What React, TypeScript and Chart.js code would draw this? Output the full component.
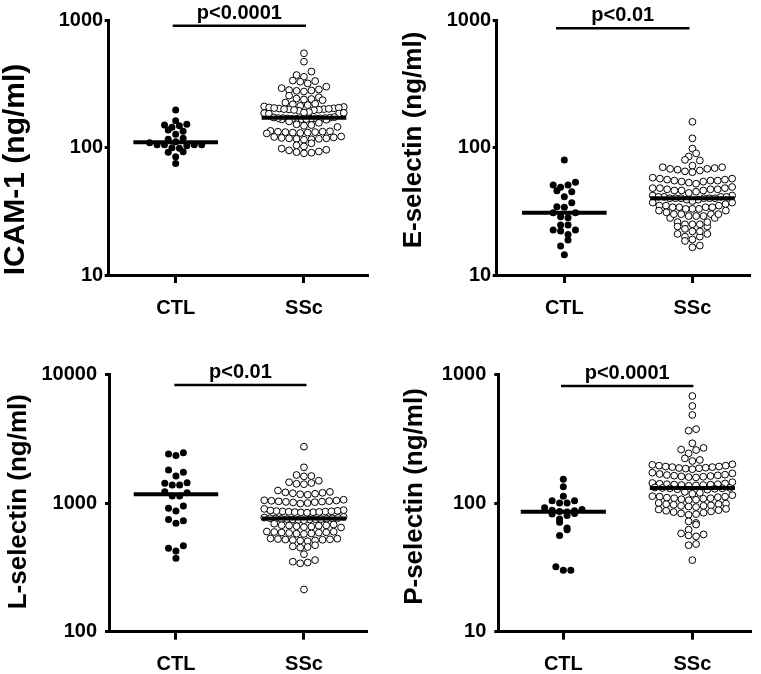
import React, { useEffect, useRef } from 'react';
import { Chart, registerables } from 'chart.js';

Chart.register(...registerables);

// ---------------- data ----------------
const categories = ['CTL', 'SSc'];
const yTitles = ['ICAM-1 (ng/ml)', 'E-selectin (ng/ml)', 'L-selectin (ng/ml)', 'P-selectin (ng/ml)'];
const pLabels = ['p<0.0001', 'p<0.01', 'p<0.01', 'p<0.0001'];
const yTickValues = [
  [10, 100, 1000],
  [10, 100, 1000],
  [100, 1000, 10000],
  [10, 100, 1000],
];
const yTickLabels = [
  ['10', '100', '1000'],
  ['10', '100', '1000'],
  ['100', '1000', '10000'],
  ['10', '100', '1000'],
];
const sigBarLevel = [900, 860, 8250, 810];

const icamCTL = [197, 162, 152, 148, 150, 144, 137, 134, 127, 116, 118, 109, 105, 105, 99.5, 103, 105, 105, 111, 92.7, 91.6, 98.5, 84.7, 75];
const icamSSc = [
  548, 471, 394, 370, 359, 335, 332, 328, 318,
  300, 292, 285, 282, 280, 278, 275,
  255, 248, 242, 240, 238, 235,
  225, 220, 218, 215, 212, 210,
  208, 203, 200, 205, 198, 202, 196, 206, 199, 201, 194, 204, 197, 200,
  190, 188, 186, 185, 184, 187,
  172, 170, 169, 168, 167, 170, 171, 166, 168, 169, 173, 165, 170, 167, 168, 169,
  160, 156, 152, 150, 148, 145,
  135, 133, 132, 131, 130, 132, 134, 129, 131, 133,
  122, 120, 118, 117, 119, 116, 121, 118, 115, 117,
  108, 104, 102, 98, 96, 95, 93, 92, 91, 90,
];

const eselCTL = [79.8, 50.8, 53.3, 48.7, 50.8, 45.8, 45, 41.1, 36.9, 34.3, 34, 30.8, 30.8, 28.1, 28.6, 24.7, 24.7, 22.5, 22.5, 22.1, 20.8, 18.8, 16.9, 14.4];
const eselSSc = [
  159, 118, 98, 90, 85, 80, 79,
  72, 70, 69, 68, 67, 66, 65, 70, 68, 64,
  58, 57, 56, 55, 54, 55, 57, 53, 56, 54, 55, 52,
  49, 48, 47, 46, 47, 48, 46, 45, 47, 44, 46, 48,
  42, 41, 40, 40, 41, 39, 40, 42, 41, 40, 39, 41, 40, 40,
  38, 37, 36, 37,
  35, 34, 34, 33, 35, 33, 34, 32, 35, 33, 34, 32,
  30, 30, 29, 29, 28, 30, 31, 29, 28, 30,
  26, 25, 25, 24, 24, 26, 25, 23,
  22, 21, 20, 21, 20, 22,
  19, 18.5, 17, 16.5,
];

const lselCTL = [2404, 2335, 2461, 1733, 1805, 1622, 1380, 1438, 1423, 1380, 1202, 1133, 1133, 1225, 910, 867, 949, 746, 695, 728, 445, 466, 424, 372];
const lselSSc = [
  2737, 1893, 1650, 1620, 1610, 1490, 1450, 1430, 1410, 1400,
  1250, 1220, 1200, 1180, 1170, 1210, 1190, 1160,
  1060, 1050, 1040, 1030, 1020, 1010, 1000, 1045, 1025, 1035, 1015, 990,
  900, 880, 870, 860, 855, 850, 865, 845, 875, 858, 848, 862, 852, 840,
  780, 770, 760, 755, 750, 752, 748, 745, 758, 762, 740, 735, 765, 745, 750,
  690, 680, 670, 665, 660, 655, 650, 672, 668, 645,
  600, 595, 590, 585, 580, 575, 592, 588, 578, 598,
  530, 525, 520, 515, 510, 522, 518, 512, 528, 505,
  470, 460, 455, 450, 400,
  360, 345, 340, 350,
  213,
];

const pselCTL = [153, 134, 113, 104, 104, 100, 100, 92, 89, 88, 87, 86, 85, 83, 82, 80, 75, 71, 64, 62, 56, 32, 30, 30];
const pselSSc = [
  678, 567, 483, 375, 365, 291, 268, 260, 258, 243, 222, 216, 212,
  200, 195, 192, 190, 188, 186, 185, 190, 183, 195, 198, 187, 192,
  172, 168, 165, 162, 160, 158, 163, 166, 161, 170, 159, 164,
  145, 142, 140, 139, 138, 137, 141, 136, 143, 139, 140, 138,
  132, 131, 130, 129, 128, 130, 131, 127,
  122, 118, 115, 112, 120,
  112, 110, 109, 108, 106, 111, 107, 105, 113, 109,
  100, 98, 96, 95, 94, 97, 99, 93, 95, 98,
  90, 88, 86, 85, 84, 83, 82, 87, 89, 81,
  72, 70, 68, 62, 58, 57, 56, 55,
  48, 47, 36,
];

const ctlSeries = [icamCTL, eselCTL, lselCTL, pselCTL];
const sscSeries = [icamSSc, eselSSc, lselSSc, pselSSc];

// ---------------- layout / style ----------------
const FONT = '"Liberation Sans", Arial, Helvetica, sans-serif';
const ROW_HEIGHT = 0.05; // row bin height in decades
const DOT_STEP = 0.058; // horizontal step between dots in a row (x units)
const COLUMN_HALF = 0.31; // max half-width of a row of dots (x units)
const MEDIAN_HALF = 0.33;
const X_AXIS_HEIGHT = 42;

const panels = [
  { left: 0, top: 0, w: 380, h: 330, yWidth: 108.7, padTop: 20, padRight: 12, chartBottom: 275, xMin: -0.522, xMax: 1.499, tickPad: 1.5, titleX: 16, titleY: 169.5, titleSize: 30, barFrom: -0.023, barTo: 1.016 },
  { left: 380, top: 0, w: 381, h: 330, yWidth: 116.7, padTop: 20, padRight: 10.3, chartBottom: 275, xMin: -0.528, xMax: 1.455, tickPad: 1.5, titleX: 34, titleY: 140, titleSize: 26, barFrom: -0.065, barTo: 0.977 },
  { left: 0, top: 330, w: 380, h: 344, yWidth: 109, padTop: 44.3, padRight: 12.3, chartBottom: 301.7, xMin: -0.523, xMax: 1.498, tickPad: 8, titleX: 19, titleY: 171.7, titleSize: 26, barFrom: -0.013, barTo: 1.02 },
  { left: 380, top: 330, w: 381, h: 344, yWidth: 118.3, padTop: 44.3, padRight: 9.3, chartBottom: 301.7, xMin: -0.504, xMax: 1.46, tickPad: 8, titleX: 35, titleY: 166.5, titleSize: 26, barFrom: -0.018, barTo: 1.008 },
];

function median(values: number[]): number {
  const s = [...values].sort((a, b) => a - b);
  const n = s.length;
  return n % 2 ? s[(n - 1) / 2] : (s[n / 2 - 1] + s[n / 2]) / 2;
}

// Prism-like scatter-dot layout: bin values into rows (log space), spread each row horizontally
function rowLayout(values: number[]): number[] {
  const ys = values.map((v) => Math.log10(v));
  const idx = ys.map((_, i) => i).sort((a, b) => ys[a] - ys[b]);
  const out = new Array(values.length).fill(0);
  let k = 0;
  let rowNo = 0;
  while (k < idx.length) {
    const start = ys[idx[k]];
    let e = k;
    while (e < idx.length && ys[idx[e]] - start <= ROW_HEIGHT + 1e-9) e++;
    const row = idx.slice(k, e);
    const n = row.length;
    const step = n > 1 ? Math.min(DOT_STEP, (2 * COLUMN_HALF) / (n - 1)) : 0;
    const sign = rowNo % 2 ? 1 : -1;
    const slots = row
      .map((_, j) => (j - (n - 1) / 2) * step)
      .sort((a, b) => {
        const d = Math.abs(a) - Math.abs(b);
        if (Math.abs(d) > 1e-9) return d;
        return sign * (a - b);
      });
    row.forEach((i, r) => {
      out[i] = slots[r];
    });
    k = e;
    rowNo++;
  }
  return out;
}

const annotPlugin = {
  id: 'annot',
  afterDatasetsDraw(chart: any, _args: any, opts: any) {
    const { ctx, scales } = chart;
    ctx.save();
    ctx.fillStyle = '#000';
    ctx.font = `bold ${opts.titleSize}px ${FONT}`;
    ctx.translate(opts.titleX, opts.titleY);
    ctx.rotate(-Math.PI / 2);
    ctx.textAlign = 'center';
    ctx.textBaseline = 'middle';
    ctx.fillText(opts.title, 0, 0);
    ctx.restore();

    ctx.save();
    ctx.fillStyle = '#000';
    ctx.font = `bold 20px ${FONT}`;
    ctx.textAlign = 'center';
    ctx.textBaseline = 'alphabetic';
    const px = scales.x.getPixelForValue((opts.barFrom + opts.barTo) / 2);
    const py = scales.y.getPixelForValue(opts.barLevel);
    ctx.fillText(opts.pText, px, py - 7);
    ctx.restore();
  },
};

function Panel({ index }: { index: number }) {
  const ref = useRef<HTMLCanvasElement | null>(null);
  const p = panels[index];
  useEffect(() => {
    if (!ref.current) return;
    const ctl = ctlSeries[index];
    const ssc = sscSeries[index];
    const offC = rowLayout(ctl);
    const offS = rowLayout(ssc);
    const mC = median(ctl);
    const mS = median(ssc);
    const ticks = yTickValues[index];
    const chart = new Chart(ref.current, {
      type: 'scatter',
      data: {
        datasets: [
          {
            type: 'line',
            data: [{ x: -MEDIAN_HALF, y: mC }, { x: MEDIAN_HALF, y: mC }],
            borderColor: '#000', borderWidth: 4, pointRadius: 0, order: 0, borderCapStyle: 'butt',
          } as any,
          {
            type: 'line',
            data: [{ x: 1 - MEDIAN_HALF, y: mS }, { x: 1 + MEDIAN_HALF, y: mS }],
            borderColor: '#000', borderWidth: 4, pointRadius: 0, order: 0, borderCapStyle: 'butt',
          } as any,
          {
            type: 'line',
            data: [{ x: p.barFrom, y: sigBarLevel[index] }, { x: p.barTo, y: sigBarLevel[index] }],
            borderColor: '#000', borderWidth: 2.5, pointRadius: 0, order: 0, borderCapStyle: 'butt',
          } as any,
          {
            type: 'scatter',
            data: ctl.map((v, i) => ({ x: 0 + offC[i], y: v })),
            pointRadius: 3.5, pointBackgroundColor: '#000', pointBorderColor: '#000', pointBorderWidth: 0, order: 1,
          } as any,
          {
            type: 'scatter',
            data: ssc.map((v, i) => ({ x: 1 + offS[i], y: v })),
            pointRadius: 3.4, pointBackgroundColor: '#fff', pointBorderColor: '#000', pointBorderWidth: 1, order: 1,
          } as any,
        ],
      },
      options: {
        animation: false,
        responsive: false,
        events: [],
        layout: { padding: { left: 0, top: p.padTop, right: p.padRight, bottom: p.h - p.chartBottom - X_AXIS_HEIGHT } },
        plugins: {
          legend: { display: false },
          tooltip: { enabled: false },
          annot: {
            title: yTitles[index], titleX: p.titleX, titleY: p.titleY, titleSize: p.titleSize,
            pText: pLabels[index], barFrom: p.barFrom, barTo: p.barTo, barLevel: sigBarLevel[index],
          },
        } as any,
        scales: {
          x: {
            type: 'linear',
            min: p.xMin,
            max: p.xMax,
            clip: false,
            afterBuildTicks: (s: any) => { s.ticks = categories.map((_, i) => ({ value: i })); },
            afterFit: (s: any) => { s.height = X_AXIS_HEIGHT; },
            ticks: {
              autoSkip: false, maxRotation: 0, padding: 13, color: '#000',
              font: { family: FONT, size: 20, weight: 'bold' },
              callback: (_v: any, i: number) => categories[i],
            },
            grid: { display: true, drawOnChartArea: false, drawTicks: true, tickLength: 8, tickWidth: 3, tickColor: '#000' },
            border: { display: true, color: '#000', width: 3 },
          },
          y: {
            type: 'logarithmic',
            min: ticks[0],
            max: ticks[ticks.length - 1],
            clip: false,
            afterBuildTicks: (s: any) => { s.ticks = ticks.map((v) => ({ value: v })); },
            afterFit: (s: any) => { s.width = p.yWidth; },
            ticks: {
              autoSkip: false, padding: p.tickPad, color: '#000',
              font: { family: FONT, size: 20, weight: 'bold' },
              callback: (_v: any, i: number) => yTickLabels[index][i],
            },
            grid: { display: true, drawOnChartArea: false, drawTicks: true, tickLength: 4, tickWidth: 3, tickColor: '#000' },
            border: { display: true, color: '#000', width: 3 },
          },
        },
      } as any,
      plugins: [annotPlugin as any],
    });
    return () => chart.destroy();
  }, [index]);
  return (
    <canvas
      ref={ref}
      width={p.w}
      height={p.h}
      style={{ position: 'absolute', left: p.left, top: p.top, width: p.w, height: p.h }}
    />
  );
}

export default function App() {
  return (
    <div style={{ position: 'absolute', left: 0, top: 0, width: 761, height: 674, background: '#fff' }}>
      {panels.map((_, i) => (
        <Panel key={i} index={i} />
      ))}
    </div>
  );
}
